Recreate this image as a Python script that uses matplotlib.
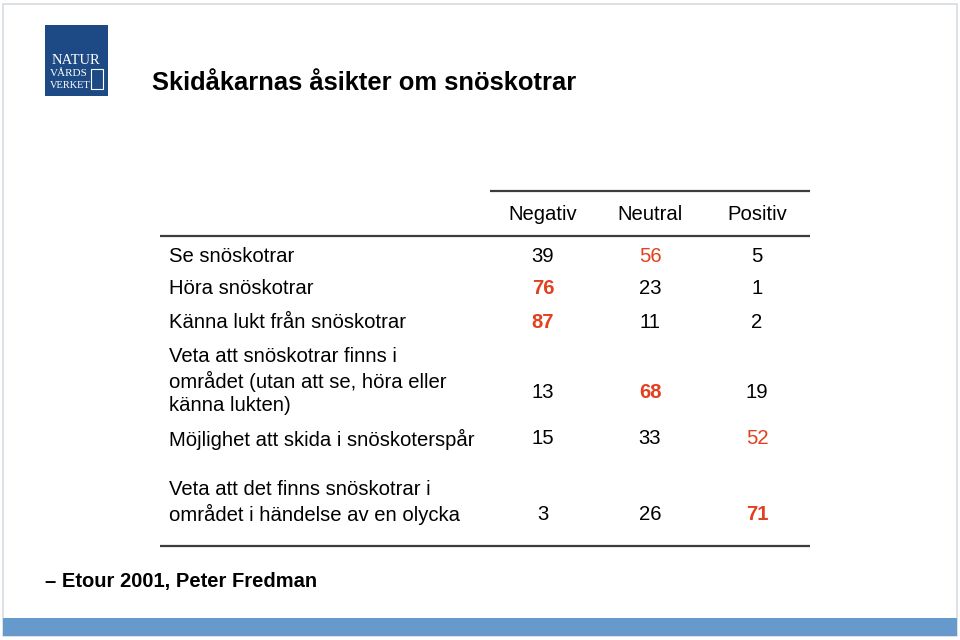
import matplotlib.pyplot as plt
from matplotlib.patches import Rectangle

plt.rcParams['font.family'] = ['Liberation Sans', 'DejaVu Sans']

title = 'Skidåkarnas åsikter om snöskotrar'
columns = ['Negativ', 'Neutral', 'Positiv']
labels = [
    'Se snöskotrar',
    'Höra snöskotrar',
    'Känna lukt från snöskotrar',
    'Veta att snöskotrar finns i\nområdet (utan att se, höra eller\nkänna lukten)',
    'Möjlighet att skida i snöskoterspår',
    'Veta att det finns snöskotrar i\nområdet i händelse av en olycka',
]
negativ = [39, 76, 87, 13, 15, 3]
neutral = [56, 23, 11, 68, 33, 26]
positiv = [5, 1, 2, 19, 52, 71]
bold_max = [False, True, True, True, False, True]
source = '– Etour 2001, Peter Fredman'

# layout (pixels)
row_y = [254, 287, 321, 391, 437, 512]
label_y = [254, 287, 321, 379, 437, 500]
col_x = [543, 650, 757]
line_h = 24.7
red = '#e2401e'
fs = 14.6

fig = plt.figure(figsize=(9.6, 6.4), dpi=100)
ax = fig.add_axes([0, 0, 1, 1])
ax.set_xlim(0, 960)
ax.set_ylim(640, 0)
ax.axis('off')

# slide frame and bottom bar
ax.add_patch(Rectangle((3, 4), 954, 632, fill=False, ec='#d6dbe0', lw=1.2))
ax.add_patch(Rectangle((3, 618), 954, 18, color='#6699cc', lw=0))

# logo
ax.add_patch(Rectangle((45, 25), 63, 71, color='#1d4a85', lw=0))
ax.text(76, 60, 'NATUR', color='white', fontsize=10.5, ha='center', va='center',
        family='Liberation Serif')
ax.text(50, 73, 'VÅRDS', color='white', fontsize=8, ha='left', va='center',
        family='Liberation Serif')
ax.text(50, 85, 'VERKET', color='white', fontsize=7.5, ha='left', va='center',
        family='Liberation Serif')
ax.add_patch(Rectangle((91, 69), 12, 20, fill=False, ec='white', lw=0.8))

ax.text(152, 83, title, fontsize=18.4, fontweight='bold', va='center', ha='left')

# rules
ax.plot([490, 810], [191, 191], color='#3c3c3c', lw=1.6, solid_capstyle='butt')
ax.plot([160, 810], [236, 236], color='#3c3c3c', lw=1.6, solid_capstyle='butt')
ax.plot([160, 810], [546, 546], color='#3c3c3c', lw=1.6, solid_capstyle='butt')

for x, c in zip(col_x, columns):
    ax.text(x, 214, c, fontsize=fs, ha='center', va='center')

for i, lab in enumerate(labels):
    parts = lab.split('\n')
    n = len(parts)
    for k, p in enumerate(parts):
        ax.text(169, label_y[i] + (k - (n - 1) / 2) * line_h, p, fontsize=fs,
                ha='left', va='center_baseline')
    vals = [negativ[i], neutral[i], positiv[i]]
    top = vals.index(max(vals))
    for j, v in enumerate(vals):
        hi = j == top
        ax.text(col_x[j], row_y[i], str(v), fontsize=fs, ha='center',
                va='center_baseline',
                color=red if hi else 'black',
                fontweight='bold' if hi and bold_max[i] else 'normal')

ax.text(45, 581, source, fontsize=14.5, fontweight='bold', ha='left', va='center')

fig.savefig('out.png', dpi=100)
